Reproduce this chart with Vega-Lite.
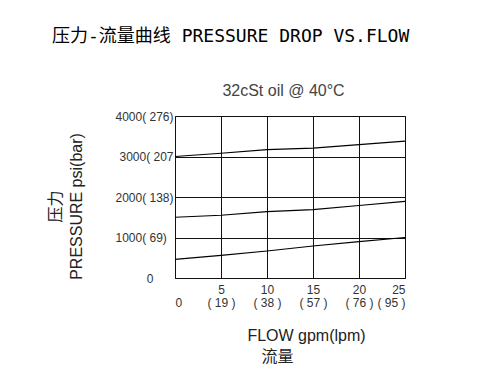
{
  "$schema": "https://vega.github.io/schema/vega-lite/v6.json",
  "autosize": "none",
  "width": 230,
  "height": 162,
  "padding": {"left": 175, "top": 116, "right": 72, "bottom": 108},
  "background": "white",
  "title": {
    "text": "压力-流量曲线 PRESSURE DROP VS.FLOW",
    "anchor": "start",
    "frame": "group",
    "dx": -123,
    "offset": 36,
    "font": "DejaVu Sans Mono, Noto Sans CJK SC",
    "fontSize": 18,
    "fontWeight": "normal",
    "color": "black"
  },
  "data": {
    "values": [
      {"curve": "A", "gpm": 0, "psi": 3000},
      {"curve": "A", "gpm": 5, "psi": 3080},
      {"curve": "A", "gpm": 10, "psi": 3170},
      {"curve": "A", "gpm": 15, "psi": 3205},
      {"curve": "A", "gpm": 20, "psi": 3295},
      {"curve": "A", "gpm": 25, "psi": 3380},
      {"curve": "B", "gpm": 0, "psi": 1500},
      {"curve": "B", "gpm": 5, "psi": 1550},
      {"curve": "B", "gpm": 10, "psi": 1640},
      {"curve": "B", "gpm": 15, "psi": 1690},
      {"curve": "B", "gpm": 20, "psi": 1790},
      {"curve": "B", "gpm": 25, "psi": 1890},
      {"curve": "C", "gpm": 0, "psi": 460},
      {"curve": "C", "gpm": 5, "psi": 560},
      {"curve": "C", "gpm": 10, "psi": 667},
      {"curve": "C", "gpm": 15, "psi": 790},
      {"curve": "C", "gpm": 20, "psi": 900},
      {"curve": "C", "gpm": 25, "psi": 1000}
    ]
  },
  "layer": [
    {
      "mark": {"type": "line", "color": "black", "strokeWidth": 1.2},
      "encoding": {
        "x": {
          "field": "gpm",
          "type": "quantitative",
          "scale": {"domain": [0, 25], "nice": false},
          "axis": {
            "values": [0, 5, 10, 15, 20, 25],
            "ticks": false,
            "domain": false,
            "grid": true,
            "gridColor": "#111",
            "gridOpacity": 1,
            "labelFontSize": 12,
            "labelColor": "#333",
            "labelPadding": 6,
            "labelLineHeight": 13,
            "labelExpr": "datum.value == 0 ? ['\u00a0', '0'] : datum.value == 5 ? ['5', '( 19 )'] : datum.value == 10 ? ['10', '( 38 )'] : datum.value == 15 ? ['15', '( 57 )'] : datum.value == 20 ? ['20', '( 76 )'] : ['25', '( 95 )']",
            "title": ["FLOW gpm(lpm)", "流量\u00a0\u00a0\u00a0\u00a0\u00a0\u00a0\u00a0\u00a0\u00a0\u00a0\u00a0\u00a0\u00a0\u200b"],
            "titleX": 131,
            "titleFontSize": 16,
            "titleFontWeight": "normal",
            "titleColor": "#222",
            "titleLineHeight": 21,
            "titlePadding": 19
          }
        },
        "y": {
          "field": "psi",
          "type": "quantitative",
          "scale": {"domain": [0, 4000], "nice": false},
          "axis": {
            "values": [0, 1000, 2000, 3000, 4000],
            "ticks": false,
            "domain": false,
            "grid": true,
            "gridColor": "#111",
            "gridOpacity": 1,
            "labelFontSize": 12,
            "labelColor": "#333",
            "labelPadding": 2,
            "labelExpr": "datum.value == 4000 ? '4000( 276)' : datum.value == 3000 ? '3000( 207' : datum.value == 2000 ? '2000( 138)' : datum.value == 1000 ? '1000( 69)\u00a0\u00a0\u200b' : '0\u00a0\u00a0\u00a0\u00a0\u00a0\u00a0\u200b'",
            "title": ["压力", "PRESSURE psi(bar)"],
            "titleY": 90,
            "titleFontSize": 16,
            "titleFontWeight": "normal",
            "titleColor": "#222",
            "titleLineHeight": 21,
            "titlePadding": 30
          }
        },
        "detail": {"field": "curve"}
      }
    },
    {
      "mark": {"type": "point", "opacity": 0},
      "encoding": {
        "x": {
          "field": "gpm",
          "type": "quantitative",
          "axis": {
            "orient": "top",
            "labels": false,
            "ticks": false,
            "domain": false,
            "grid": false,
            "title": "32cSt oil @ 40°C",
            "titleX": 108,
            "titleFontSize": 16,
            "titleFontWeight": "normal",
            "titleColor": "#444",
            "titlePadding": 18
          }
        }
      }
    }
  ],
  "resolve": {"axis": {"x": "independent"}},
  "config": {
    "view": {"stroke": "#111", "strokeWidth": 1},
    "font": "Liberation Sans, Noto Sans CJK SC"
  }
}
